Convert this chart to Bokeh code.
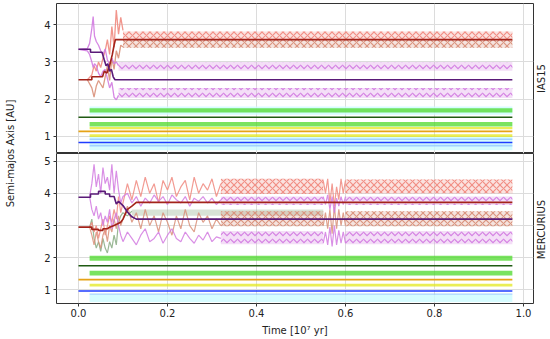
import math
from bokeh.plotting import figure
from bokeh.layouts import row, column
from bokeh.models import Label, FixedTicker, Range1d, ColumnDataSource
from bokeh.embed import file_html
from bokeh.resources import INLINE

FONT = "DejaVu Sans"
T_END = 0.975

# ---------------- ticks / labels ----------------
x_ticks = [0.0, 0.2, 0.4, 0.6, 0.8, 1.0]
x_tick_labels = ["0.0", "0.2", "0.4", "0.6", "0.8", "1.0"]
top_y_ticks = [1, 2, 3, 4]
bot_y_ticks = [1, 2, 3, 4, 5]
panel_names = ["IAS15", "MERCURIUS"]
y_title = "Semi-majos Axis [AU]"
x_title = "Time [10\u2077 yr]"

# ---------------- colours ----------------
C_SALMON = "#f08a80"
C_SALMON2 = "#d9907a"
C_BROWN = "#a3231a"
C_PURPLE = "#5a1a78"
C_ORCHID = "#d27be0"
C_LIME = "#4cd92a"
C_DGREEN = "#1f5a12"
C_GOLD = "#e6a317"
C_YELLOW = "#e3e81c"
C_BLUE = "#1f3cff"
C_LBLUE = "#8fc4ff"
C_CYAN = "#ccfbff"
C_SEAGREEN = "#8fb08a"

# ================= IAS15 (top) =================
ias_purple_t = [0.0, 0.027, 0.027, 0.053, 0.058, 0.062, 0.066, 0.07, 0.074, 0.078, 0.082, T_END]
ias_purple_a = [3.34, 3.34, 3.26, 3.26, 3.05, 2.9, 2.95, 2.75, 2.8, 2.6, 2.52, 2.52]
ias_brown_t = [0.0, 0.03, 0.03, 0.054, 0.058, 0.064, 0.07, 0.076, 0.08, 0.083, T_END]
ias_brown_a = [2.52, 2.52, 2.6, 2.6, 2.75, 2.7, 2.9, 3.2, 3.45, 3.6, 3.6]
ias_flat_t = [0.0, T_END]
ias_green_a = [1.51, 1.51]
ias_gold_a = [1.13, 1.13]
ias_blue_a = [0.83, 0.83]

ias_orchid_t = [0.0, 0.02, 0.025, 0.03, 0.033, 0.036, 0.04, 0.045, 0.05, 0.055, 0.06, 0.065, 0.07, 0.075, 0.08, 0.085, 0.09]
ias_orchid_hi = [3.34, 3.36, 3.5, 3.9, 4.22, 3.7, 3.55, 3.45, 3.3, 3.2, 3.35, 3.05, 2.95, 3.1, 2.95, 3.0, 2.9]
ias_orchid_lo = [3.34, 3.3, 3.2, 3.0, 2.85, 2.95, 2.9, 2.7, 2.6, 2.75, 2.8, 2.55, 2.3, 2.45, 2.05, 1.98, 2.1]
ias_salmon_t = [0.02, 0.03, 0.035, 0.04, 0.045, 0.05, 0.055, 0.06, 0.065, 0.07, 0.075, 0.08, 0.085, 0.09, 0.095, 0.1]
ias_salmon_hi = [2.52, 2.65, 2.9, 2.75, 3.0, 2.85, 3.1, 3.3, 3.6, 3.2, 3.95, 3.4, 4.4, 3.75, 4.2, 3.85]
ias_salmon_lo = [2.52, 2.3, 2.05, 2.35, 2.5, 2.4, 2.3, 2.6, 2.9, 2.5, 3.1, 2.8, 3.3, 3.1, 3.45, 3.4]

# oscillation envelopes: start, end, low, high
ias_band_t0 = [0.025, 0.025, 0.1, 0.1, 0.09, 0.09, 0.025, 0.025, 0.025, 0.025, 0.025, 0.025]
ias_band_t1 = [T_END] * 12
ias_band_lo = [0.62, 1.58, 3.6, 3.38, 2.76, 2.03, 1.64, 1.26, 1.19, 0.98, 0.9, 0.72]
ias_band_hi = [0.98, 1.8, 3.82, 3.6, 3.0, 2.3, 1.75, 1.38, 1.25, 1.05, 0.94, 0.77]
ias_band_col = [C_CYAN, C_CYAN, C_SALMON, C_SALMON2, C_ORCHID, C_ORCHID, C_LIME, C_LIME, C_YELLOW, C_YELLOW, C_LBLUE, C_LBLUE]

# ================= MERCURIUS (bottom) =================
mer_purple_t = [0.0, 0.027, 0.027, 0.045, 0.045, 0.06, 0.06, 0.07, 0.07, 0.08, 0.085, 0.09, 0.1, 0.11, 0.12, 0.13, T_END]
mer_purple_a = [3.88, 3.88, 3.98, 3.98, 4.06, 4.06, 3.98, 3.98, 3.9, 3.9, 3.67, 3.75, 3.62, 3.42, 3.27, 3.2, 3.2]
mer_brown_t = [0.0, 0.03, 0.03, 0.045, 0.045, 0.055, 0.055, 0.065, 0.07, 0.08, 0.095, 0.1, 0.11, 0.12, 0.13, T_END]
mer_brown_a = [2.95, 2.95, 2.88, 2.88, 2.85, 2.85, 2.9, 2.9, 2.95, 3.0, 3.1, 3.2, 3.5, 3.6, 3.72, 3.72]
mer_flat_t = [0.0, T_END]
mer_green_a = [1.75, 1.75]
mer_gold_a = [1.32, 1.32]
mer_blue_a = [0.97, 0.97]

mer_chaos_t = [0.025, 0.03, 0.035, 0.04, 0.045, 0.05, 0.055, 0.06, 0.065, 0.07, 0.075, 0.08, 0.085, 0.09,
               0.095, 0.10, 0.11, 0.12, 0.13, 0.14, 0.15, 0.16, 0.17, 0.18, 0.19, 0.20, 0.21, 0.22, 0.23,
               0.24, 0.25, 0.26, 0.27, 0.28, 0.29, 0.30, 0.31, 0.32]
mer_orchid_hi = [3.9, 4.3, 4.9, 4.2, 4.6, 4.0, 4.8, 4.3, 4.5, 4.1, 4.9, 4.0, 4.7, 4.1, 3.7, 3.9, 4.0, 3.7, 3.9,
                 3.6, 3.85, 3.7, 3.95, 3.75, 3.9, 3.65, 3.95, 3.8, 3.7, 3.9, 3.6, 3.85, 3.75, 3.9, 3.7, 3.85, 3.65, 3.8]
mer_orchid_lo = [3.9, 3.5, 3.3, 3.6, 3.2, 3.4, 3.0, 3.3, 3.1, 3.5, 2.9, 3.2, 3.4, 3.0, 2.7, 2.5, 2.8, 2.6, 2.4,
                 2.7, 2.9, 2.5, 2.6, 2.8, 2.45, 2.7, 2.9, 2.6, 2.5, 2.8, 2.6, 2.45, 2.7, 2.55, 2.8, 2.5, 2.65, 2.6]
mer_salmon_hi = [2.95, 3.1, 2.8, 3.0, 2.6, 2.9, 3.2, 2.7, 3.0, 3.3, 3.1, 3.5, 3.2, 3.9, 3.4, 3.7, 4.3, 3.8, 4.4,
                 3.9, 4.5, 4.0, 4.3, 3.7, 4.4, 4.1, 4.5, 3.9, 4.2, 4.4, 3.8, 4.5, 4.0, 4.3, 4.1, 4.45, 3.9, 4.3]
mer_salmon_lo = [2.95, 2.7, 2.4, 2.8, 2.5, 2.3, 2.7, 2.9, 2.5, 3.0, 2.8, 3.2, 2.9, 3.3, 3.0, 3.2, 3.6, 3.1, 3.4,
                 2.9, 3.5, 3.0, 3.3, 2.8, 3.4, 3.1, 2.7, 3.3, 2.9, 3.5, 3.0, 2.8, 3.4, 3.1, 3.3, 2.9, 3.2, 3.0]
mer_sea_t = [0.025, 0.03, 0.035, 0.04, 0.045, 0.05, 0.055, 0.06, 0.065, 0.07, 0.075, 0.08, 0.085, 0.09, 0.095, 0.10, 0.11, 0.12]
mer_sea_a = [2.95, 3.2, 2.6, 2.3, 2.5, 2.2, 2.6, 2.3, 2.15, 2.5, 2.3, 2.7, 2.4, 3.1, 3.3, 3.4, 3.3, 3.45]

# short unsettled episode near t = 0.55-0.60
mer_pinch_t = [0.55, 0.555, 0.56, 0.565, 0.57, 0.575, 0.58, 0.585, 0.59, 0.595, 0.6]
mer_pinch_salmon_hi = [4.4, 4.0, 4.45, 3.7, 4.3, 3.6, 4.2, 3.8, 4.45, 4.0, 4.4]
mer_pinch_salmon_lo = [3.0, 3.4, 2.9, 3.5, 2.75, 3.6, 2.9, 3.5, 3.0, 3.4, 3.0]
mer_pinch_orchid_hi = [3.9, 3.65, 3.95, 3.5, 3.9, 3.4, 3.85, 3.6, 3.9, 3.65, 3.9]
mer_pinch_orchid_lo = [2.45, 2.8, 2.4, 2.95, 2.35, 3.0, 2.4, 2.85, 2.45, 2.8, 2.45]

mer_band_t0 = [0.025, 0.12, 0.32, 0.32, 0.32, 0.32, 0.6, 0.6, 0.6, 0.6, 0.025, 0.025, 0.025, 0.025]
mer_band_t1 = [T_END, 0.55, 0.55, 0.55, 0.55, 0.55, T_END, T_END, T_END, T_END, T_END, T_END, T_END, T_END]
mer_band_lo = [0.63, 3.3, 3.98, 2.98, 3.64, 2.42, 4.0, 2.98, 3.64, 2.42, 1.91, 1.45, 1.11, 0.85]
mer_band_hi = [0.86, 3.5, 4.45, 3.44, 3.9, 2.83, 4.43, 3.44, 3.9, 2.83, 2.06, 1.6, 1.19, 0.89]
mer_band_col = [C_CYAN, C_SEAGREEN, C_SALMON, C_SALMON2, C_ORCHID, C_ORCHID,
                C_SALMON, C_SALMON2, C_ORCHID, C_ORCHID, C_LIME, C_LIME, C_YELLOW, C_LBLUE]

# ---------------- layout numbers ----------------
W_LEFT = 20
W_PANEL = 515
W_RIGHT = 13
H_TOP = 153
H_BOT = 185
X_RANGE = (-0.0494, 1.0225)
HATCH = {C_SALMON: "diagonal_cross", C_SALMON2: "diagonal_cross", C_ORCHID: "horizontal_wave"}


def make_panel(y_range, y_ticks, show_x):
    p = figure(width=W_PANEL, height=H_BOT if show_x else H_TOP,
               x_range=Range1d(*X_RANGE), y_range=Range1d(*y_range),
               output_backend="svg", toolbar_location=None,
               min_border_left=36, min_border_right=2,
               min_border_top=0 if show_x else 3,
               min_border_bottom=33 if show_x else 0)
    p.outline_line_color = "#333333"
    p.outline_line_width = 1
    p.xgrid.ticker = FixedTicker(ticks=x_ticks)
    p.ygrid.ticker = FixedTicker(ticks=y_ticks)
    for g in (p.xgrid, p.ygrid):
        g.grid_line_color = "#dcdcdc"
        g.grid_line_width = 1
    ya = p.yaxis[0]
    ya.ticker = FixedTicker(ticks=y_ticks)
    ya.major_label_overrides = {t: str(t) for t in y_ticks}
    ya.minor_tick_line_color = None
    ya.axis_line_color = None
    ya.major_tick_in = 0
    ya.major_tick_out = 3
    ya.major_tick_line_color = "#333333"
    ya.major_label_text_font = FONT
    ya.major_label_text_font_size = "10px"
    ya.major_label_text_color = "#222222"
    ya.major_label_standoff = 3
    xa = p.xaxis[0]
    if show_x:
        xa.ticker = FixedTicker(ticks=x_ticks)
        xa.major_label_overrides = dict(zip(x_ticks, x_tick_labels))
        xa.minor_tick_line_color = None
        xa.axis_line_color = None
        xa.major_tick_in = 0
        xa.major_tick_out = 3
        xa.major_tick_line_color = "#333333"
        xa.major_label_text_font = FONT
        xa.major_label_text_font_size = "10px"
        xa.major_label_text_color = "#222222"
        xa.major_label_standoff = 2
        xa.axis_label = x_title
        xa.axis_label_text_font = FONT
        xa.axis_label_text_font_size = "10px"
        xa.axis_label_text_font_style = "normal"
        xa.axis_label_text_color = "#222222"
        xa.axis_label_standoff = 5
    else:
        xa.visible = False
    return p


def draw_bands(p, t0s, t1s, los, his, cols):
    for t0, t1, lo, hi, c in zip(t0s, t1s, los, his, cols):
        src = ColumnDataSource(dict(x=[t0, t1], y1=[lo, lo], y2=[hi, hi]))
        if c in HATCH:
            p.varea(x="x", y1="y1", y2="y2", source=src, fill_color=c, fill_alpha=0.25,
                    hatch_pattern=HATCH[c], hatch_color=c, hatch_alpha=0.95,
                    hatch_scale=7, hatch_weight=1.2)
        elif c == C_CYAN:
            p.varea(x="x", y1="y1", y2="y2", source=src, fill_color=c, fill_alpha=0.8)
        elif c == C_SEAGREEN:
            p.varea(x="x", y1="y1", y2="y2", source=src, fill_color=c, fill_alpha=0.35)
        else:
            p.varea(x="x", y1="y1", y2="y2", source=src, fill_color=c, fill_alpha=0.75)


def line(p, t, a, color, width=1.2, alpha=1.0):
    p.line(x=t, y=a, line_color=color, line_width=width, line_alpha=alpha)


def side_fig(width, labels, xs, ys):
    f = figure(width=width, height=H_TOP + H_BOT, x_range=Range1d(0, width),
               y_range=Range1d(0, H_TOP + H_BOT), output_backend="svg",
               toolbar_location=None, min_border=0)
    f.axis.visible = False
    f.grid.visible = False
    f.outline_line_color = None
    for txt, x, y in zip(labels, xs, ys):
        f.add_layout(Label(x=x, y=y, text=txt, angle=math.pi / 2,
                           text_align="center", text_baseline="middle",
                           text_font=FONT, text_font_size="10px", text_color="#222222"))
    return f


# ---- top ----
top = make_panel((0.534, 4.574), top_y_ticks, False)
draw_bands(top, ias_band_t0, ias_band_t1, ias_band_lo, ias_band_hi, ias_band_col)
line(top, ias_salmon_t, ias_salmon_hi, C_SALMON, 1.3, 0.9)
line(top, ias_salmon_t, ias_salmon_lo, C_SALMON2, 1.3, 0.9)
line(top, ias_orchid_t, ias_orchid_hi, C_ORCHID, 1.3, 0.9)
line(top, ias_orchid_t, ias_orchid_lo, C_ORCHID, 1.3, 0.9)
line(top, ias_flat_t, ias_blue_a, C_BLUE, 1.6)
line(top, ias_flat_t, ias_gold_a, C_GOLD, 1.6)
line(top, ias_flat_t, ias_green_a, C_DGREEN, 1.6)
line(top, ias_brown_t, ias_brown_a, C_BROWN, 1.6)
line(top, ias_purple_t, ias_purple_a, C_PURPLE, 1.6)

# ---- bottom ----
bot = make_panel((0.58, 5.236), bot_y_ticks, True)
draw_bands(bot, mer_band_t0, mer_band_t1, mer_band_lo, mer_band_hi, mer_band_col)
line(bot, mer_sea_t, mer_sea_a, C_SEAGREEN, 1.2, 0.9)
line(bot, mer_chaos_t, mer_salmon_hi, C_SALMON, 1.2, 0.85)
line(bot, mer_chaos_t, mer_salmon_lo, C_SALMON2, 1.2, 0.85)
line(bot, mer_chaos_t, mer_orchid_hi, C_ORCHID, 1.2, 0.85)
line(bot, mer_chaos_t, mer_orchid_lo, C_ORCHID, 1.2, 0.85)
line(bot, mer_pinch_t, mer_pinch_salmon_hi, C_SALMON, 1.2, 0.85)
line(bot, mer_pinch_t, mer_pinch_salmon_lo, C_SALMON2, 1.2, 0.85)
line(bot, mer_pinch_t, mer_pinch_orchid_hi, C_ORCHID, 1.2, 0.85)
line(bot, mer_pinch_t, mer_pinch_orchid_lo, C_ORCHID, 1.2, 0.85)
line(bot, mer_flat_t, mer_blue_a, C_BLUE, 1.6)
line(bot, mer_flat_t, mer_gold_a, C_GOLD, 1.6)
line(bot, mer_flat_t, mer_green_a, C_DGREEN, 1.6)
line(bot, mer_brown_t, mer_brown_a, C_BROWN, 1.6)
line(bot, mer_purple_t, mer_purple_a, C_PURPLE, 1.6)

# ---- side labels (shared y title, method names) ----
H_ALL = H_TOP + H_BOT
left = side_fig(W_LEFT, [y_title], [10], [H_ALL - 153])
right = side_fig(W_RIGHT, panel_names, [6, 6], [H_ALL - 78, H_ALL - 229])

layout = row(left, column(top, bot, spacing=0), right, spacing=0)
open("out.html", "w").write(file_html(layout, INLINE))
